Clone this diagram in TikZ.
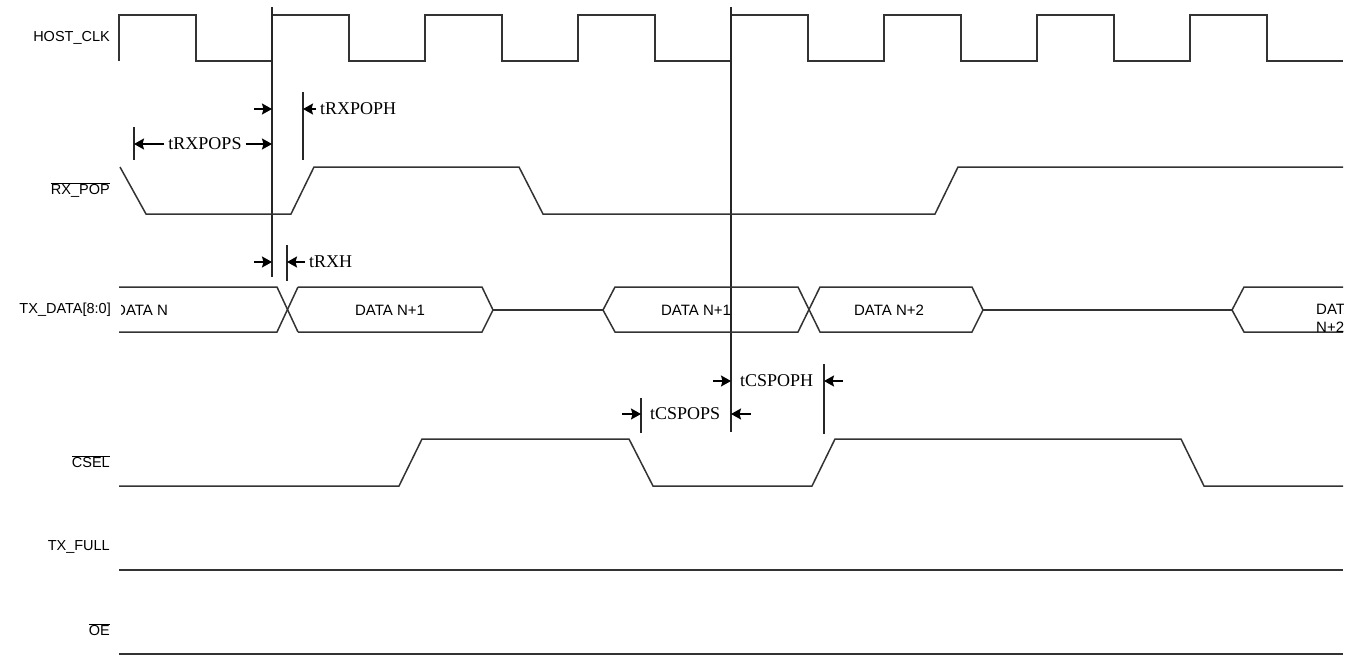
\documentclass[tikz,border=0pt]{standalone}
\usepackage{fontspec}
\setmainfont{Liberation Serif}
\setsansfont{Liberation Sans}
\usetikzlibrary{arrows.meta}
\tikzset{>={Stealth[length=10pt,width=11pt,inset=1.5pt]}}
\tikzstyle{wave}=[line width=1.5pt,black!80]
\tikzstyle{tick}=[line width=1.5pt,black!85]
\tikzstyle{dim}=[->,line width=1.4pt,black]
\tikzstyle{sig}=[anchor=east,inner sep=0pt,font=\sffamily\fontsize{14.5}{17}\selectfont]
\tikzstyle{val}=[inner sep=0pt,font=\sffamily\fontsize{15}{18}\selectfont]
\tikzstyle{tm}=[inner ysep=1pt,inner xsep=4pt,font=\fontsize{18}{20}\selectfont]

\begin{document}
\begin{tikzpicture}[x=1pt,y=-1pt]
  \useasboundingbox (0,0) rectangle (1358,656);
  \def\xs{119}
  \def\xe{1343}
  \def\ea{272}
  \def\eb{731}
  % signal names
  \node[sig] (clk) at (110,38) {HOST\_CLK};
  \node[sig] (rxpop) at (110,190) {$\overline{\hbox{RX\_POP}}$};
  \node[sig] (txdata) at (111,310) {TX\_DATA[8:0]};
  \node[sig] (csel) at (110,462) {$\overline{\hbox{CSEL}}$};
  \node[sig] (txfull) at (110,547) {TX\_FULL};
  \node[sig] (oe) at (110,630) {$\overline{\hbox{OE}}$};
  % clock
  \draw[wave] (\xs,61) \foreach \i in {1,...,8} { -- ++(0,-46) -- ++(77,0) -- ++(0,46) -- ++(76,0) };
  % reference edges
  \coordinate (eatop) at (\ea,7);
  \coordinate (eabot) at (\ea,277);
  \coordinate (ebtop) at (\eb,7);
  \coordinate (ebbot) at (\eb,432);
  \draw[tick] (eatop) -- (eabot);
  \draw[tick] (ebtop) -- (ebbot);
  % rx_pop
  \draw[wave] (120,167) -- (146,214) -- (291,214) -- (314,167) -- (519,167) -- (543,214)
    -- (935,214) -- (958,167) -- (\xe,167);
  % tx_data
  \draw[wave] (\xs,287) -- (277,287) -- (298,332);
  \draw[wave] (\xs,332) -- (277,332) -- (298,287);
  \draw[wave] (298,287) -- (482,287) -- (493,310) -- (482,332) -- (298,332);
  \draw[wave] (493,310) -- (603,310);
  \draw[wave] (603,310) -- (615,287) -- (798,287) -- (820,332) -- (972,332) -- (983,310)
    -- (972,287) -- (820,287) -- (798,332) -- (615,332) -- cycle;
  \draw[wave] (983,310) -- (1232,310);
  \draw[wave] (\xe,287) -- (1244,287) -- (1232,310) -- (1244,332) -- (\xe,332);
  \begin{scope}
    \clip (121,280) rectangle (\xe,340);
    \node[val,anchor=west] (dn) at (115,310) {DATA N};
    \node[val] (dn1) at (390,310) {DATA N+1};
    \node[val] (dn1b) at (696,310) {DATA N+1};
    \node[val] (dn2) at (889,310) {DATA N+2};
    \node[val,anchor=west,align=left] (dn2b) at (1316,318) {DATA\\N+2};
  \end{scope}
  % csel
  \draw[wave] (\xs,486) -- (399,486) -- (422,439) -- (629,439) -- (653,486) -- (812,486)
    -- (835,439) -- (1181,439) -- (1204,486) -- (\xe,486);
  % tx_full, oe
  \draw[wave] (\xs,570) -- (\xe,570);
  \draw[wave] (\xs,654) -- (\xe,654);
  % tRXPOPS
  \coordinate (rsa) at (134,127);
  \coordinate (rsb) at (134,160);
  \draw[tick] (rsa) -- (rsb);
  \node[tm] (rxpops) at (205,144) {tRXPOPS};
  \draw[dim] (rxpops.west) -- (134,144);
  \draw[dim] (rxpops.east) -- (\ea,144);
  % tRXPOPH
  \coordinate (rha) at (303,92);
  \coordinate (rhb) at (303,160);
  \draw[tick] (rha) -- (rhb);
  \node[tm,anchor=west] (rxpoph) at (316,109) {tRXPOPH};
  \draw[dim] (254,109) -- (\ea,109);
  \draw[dim] (rxpoph.west) -- (303,109);
  % tRXH
  \coordinate (xha) at (287,245);
  \coordinate (xhb) at (287,281);
  \draw[tick] (xha) -- (xhb);
  \node[tm,anchor=west] (rxh) at (305,262) {tRXH};
  \draw[dim] (254,262) -- (\ea,262);
  \draw[dim] (rxh.west) -- (287,262);
  % tCSPOPH
  \coordinate (cha) at (824,364);
  \coordinate (chb) at (824,434);
  \draw[tick] (cha) -- (chb);
  \node[tm,anchor=west] (cspoph) at (736,381) {tCSPOPH};
  \draw[dim] (713,381) -- (\eb,381);
  \draw[dim] (843,381) -- (824,381);
  % tCSPOPS
  \coordinate (csa) at (641,398);
  \coordinate (csb) at (641,433);
  \draw[tick] (csa) -- (csb);
  \node[tm,anchor=west] (cspops) at (646,414) {tCSPOPS};
  \draw[dim] (622,414) -- (641,414);
  \draw[dim] (751,414) -- (\eb,414);
\end{tikzpicture}
\end{document}
